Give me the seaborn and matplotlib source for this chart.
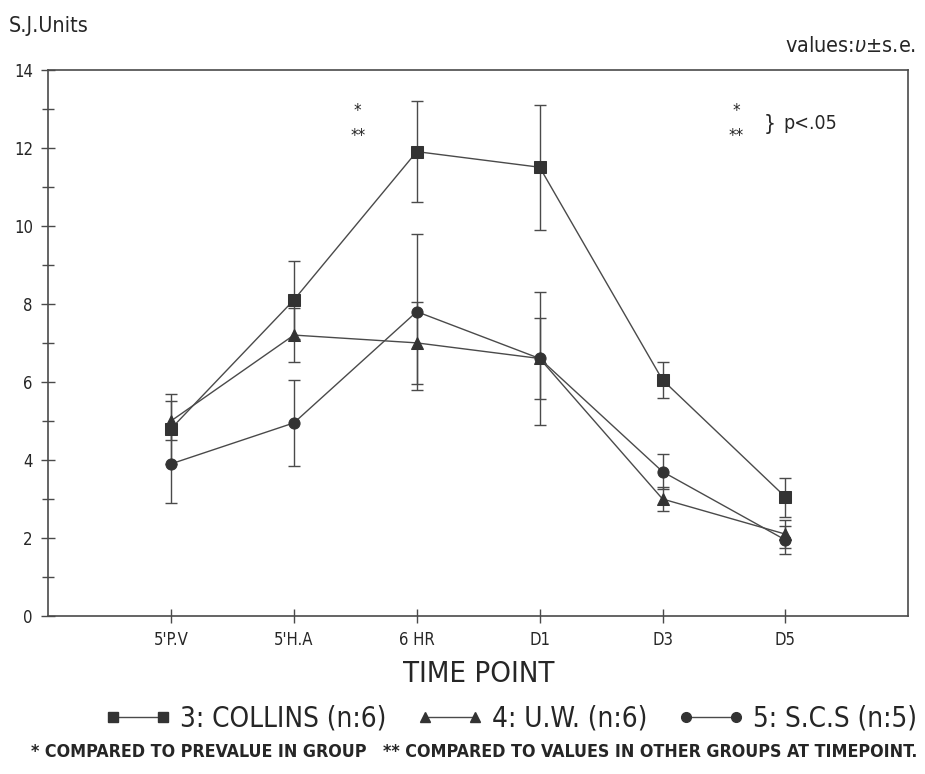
import numpy as np
import pandas as pd
import matplotlib
matplotlib.use('Agg')
import matplotlib.pyplot as plt
from matplotlib.lines import Line2D
import seaborn as sns

sns.set_style('white')
plt.rcParams['font.family'] = ['DejaVu Sans']
plt.rcParams['font.stretch'] = 'condensed'

# time points on x axis
timepoints = ["5'P.V", "5'H.A", "6 HR", "D1", "D3", "D5"]
groups = ['3: COLLINS (n:6)', '4: U.W. (n:6)', '5: S.C.S (n:5)']

# mean values
collins = [4.8, 8.1, 11.9, 11.5, 6.05, 3.05]
uw = [5.0, 7.2, 7.0, 6.6, 3.0, 2.1]
scs = [3.9, 4.95, 7.8, 6.6, 3.7, 1.95]

# standard errors
collins_se = [0.9, 1.0, 1.3, 1.6, 0.45, 0.5]
uw_se = [0.5, 0.7, 1.05, 1.05, 0.3, 0.35]
scs_se = [1.0, 1.1, 2.0, 1.7, 0.45, 0.35]

GRAY = '#4a4a4a'
MARK = '#333333'
markers = ['s', '^', 'o']

rows = []
for g, vals, ses in zip(groups, [collins, uw, scs], [collins_se, uw_se, scs_se]):
    for i, (v, s) in enumerate(zip(vals, ses)):
        rows.append({'group': g, 'pos': i + 1, 'value': v, 'se': s})
df = pd.DataFrame(rows)

fig = plt.figure(figsize=(9.25, 7.74), dpi=100)
ax = fig.add_axes([0.052, 0.204, 0.930, 0.706])

for g in groups:
    sub = df[df.group == g]
    ax.errorbar(sub.pos, sub.value, yerr=sub.se, fmt='none', ecolor=GRAY,
                elinewidth=1.0, capsize=4, capthick=1.0, zorder=2)

sns.lineplot(data=df, x='pos', y='value', hue='group', style='group',
             markers=markers, dashes=False, palette=[GRAY] * 3, ax=ax,
             markersize=8, markeredgecolor=MARK, markerfacecolor=MARK,
             linewidth=1.0, legend=False, zorder=3)

ax.set_xlim(0, 7)
ax.set_ylim(0, 14)
ax.set_xticks(range(1, 7))
ax.set_xticklabels(timepoints, fontsize=12)
ax.set_yticks(range(0, 15, 2))
ax.set_yticklabels([str(v) for v in range(0, 15, 2)], fontsize=12)
ax.set_yticks(range(1, 14, 2), minor=True)
ax.tick_params(axis='both', which='both', direction='inout', length=10,
               width=1.0, color=GRAY, pad=6, bottom=True, left=True)
ax.tick_params(axis='y', which='minor', length=8)
for sp in ax.spines.values():
    sp.set_color(GRAY)
    sp.set_linewidth(1.2)
ax.set_xlabel('TIME POINT', fontsize=21, labelpad=8)
ax.set_ylabel('')

# annotations inside the plot
ax.text(2.52, 12.95, '*', fontsize=12, ha='center', va='center')
ax.text(2.52, 12.3, '**', fontsize=12, ha='center', va='center')
ax.text(5.6, 12.95, '*', fontsize=12, ha='center', va='center')
ax.text(5.6, 12.3, '**', fontsize=12, ha='center', va='center')
ax.text(5.87, 12.62, '}', fontsize=15, ha='center', va='center')
ax.text(5.98, 12.62, 'p<.05', fontsize=14, ha='left', va='center')

fig.text(0.009, 0.967, 'S.J.Units', fontsize=15.5, ha='left', va='center')
fig.text(0.99, 0.941, 'values:$\\upsilon$$\\pm$s.e.', fontsize=15.5,
         ha='right', va='center')

handles = [Line2D([0], [0], color=GRAY, marker=m, markersize=7,
                  markerfacecolor=MARK, markeredgecolor=MARK, linewidth=1.0)
           for m in markers]
fig.legend(handles, groups, loc='center', bbox_to_anchor=(0.552, 0.072),
           ncol=3, numpoints=2, frameon=False, fontsize=20,
           handlelength=2.4, handletextpad=0.3, columnspacing=1.1)

fig.text(0.513, 0.028, '* COMPARED TO PREVALUE IN GROUP   ** COMPARED TO VALUES IN OTHER GROUPS AT TIMEPOINT.',
         fontsize=12.8, fontweight='bold', ha='center', va='center')

fig.savefig('out.png', dpi=100)
